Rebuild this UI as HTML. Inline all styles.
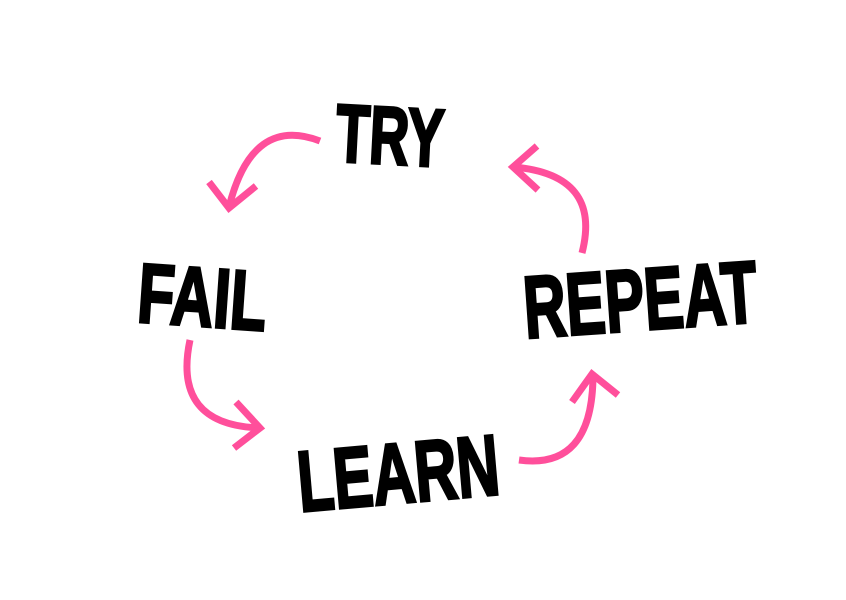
<!DOCTYPE html>
<html><head><meta charset="utf-8"><style>
html,body{margin:0;padding:0;background:#fff;}
svg{display:block;}
text{font-family:"Liberation Sans",sans-serif;font-weight:bold;fill:#000;stroke:#000;stroke-width:3;stroke-linejoin:miter;}
</style></head><body>
<svg width="846" height="600" viewBox="0 0 846 600" xmlns="http://www.w3.org/2000/svg">
<g fill="none" stroke="#ff4f9b" stroke-width="7" stroke-linecap="butt" stroke-linejoin="miter">
<path d="M320,141 Q252,115 229,207"/>
<path d="M209,182 L229,208 L256,186"/>
<path d="M190,340 Q172,425 260,428"/>
<path d="M236,402 L260,428 L234,448"/>
<path d="M519,460 Q592,470 593,377"/>
<path d="M572,402 L592,374 L618,395"/>
<path d="M582,253 Q602,175 514,167"/>
<path d="M537,146 L513,167 L538,190"/>
</g>
<text x="336" y="164" font-size="82" textLength="108" lengthAdjust="spacingAndGlyphs" transform="rotate(3 390 135)">TRY</text>
<text x="138" y="326" font-size="84" textLength="129" lengthAdjust="spacingAndGlyphs" transform="rotate(4 200 297)">FAIL</text>
<text x="523" y="330" font-size="88" textLength="234" lengthAdjust="spacingAndGlyphs" transform="rotate(-4 640 295)">REPEAT</text>
<text x="297" y="503" font-size="86" textLength="202" lengthAdjust="spacingAndGlyphs" transform="rotate(-5 398 470)">LEARN</text>
</svg>
</body></html>
